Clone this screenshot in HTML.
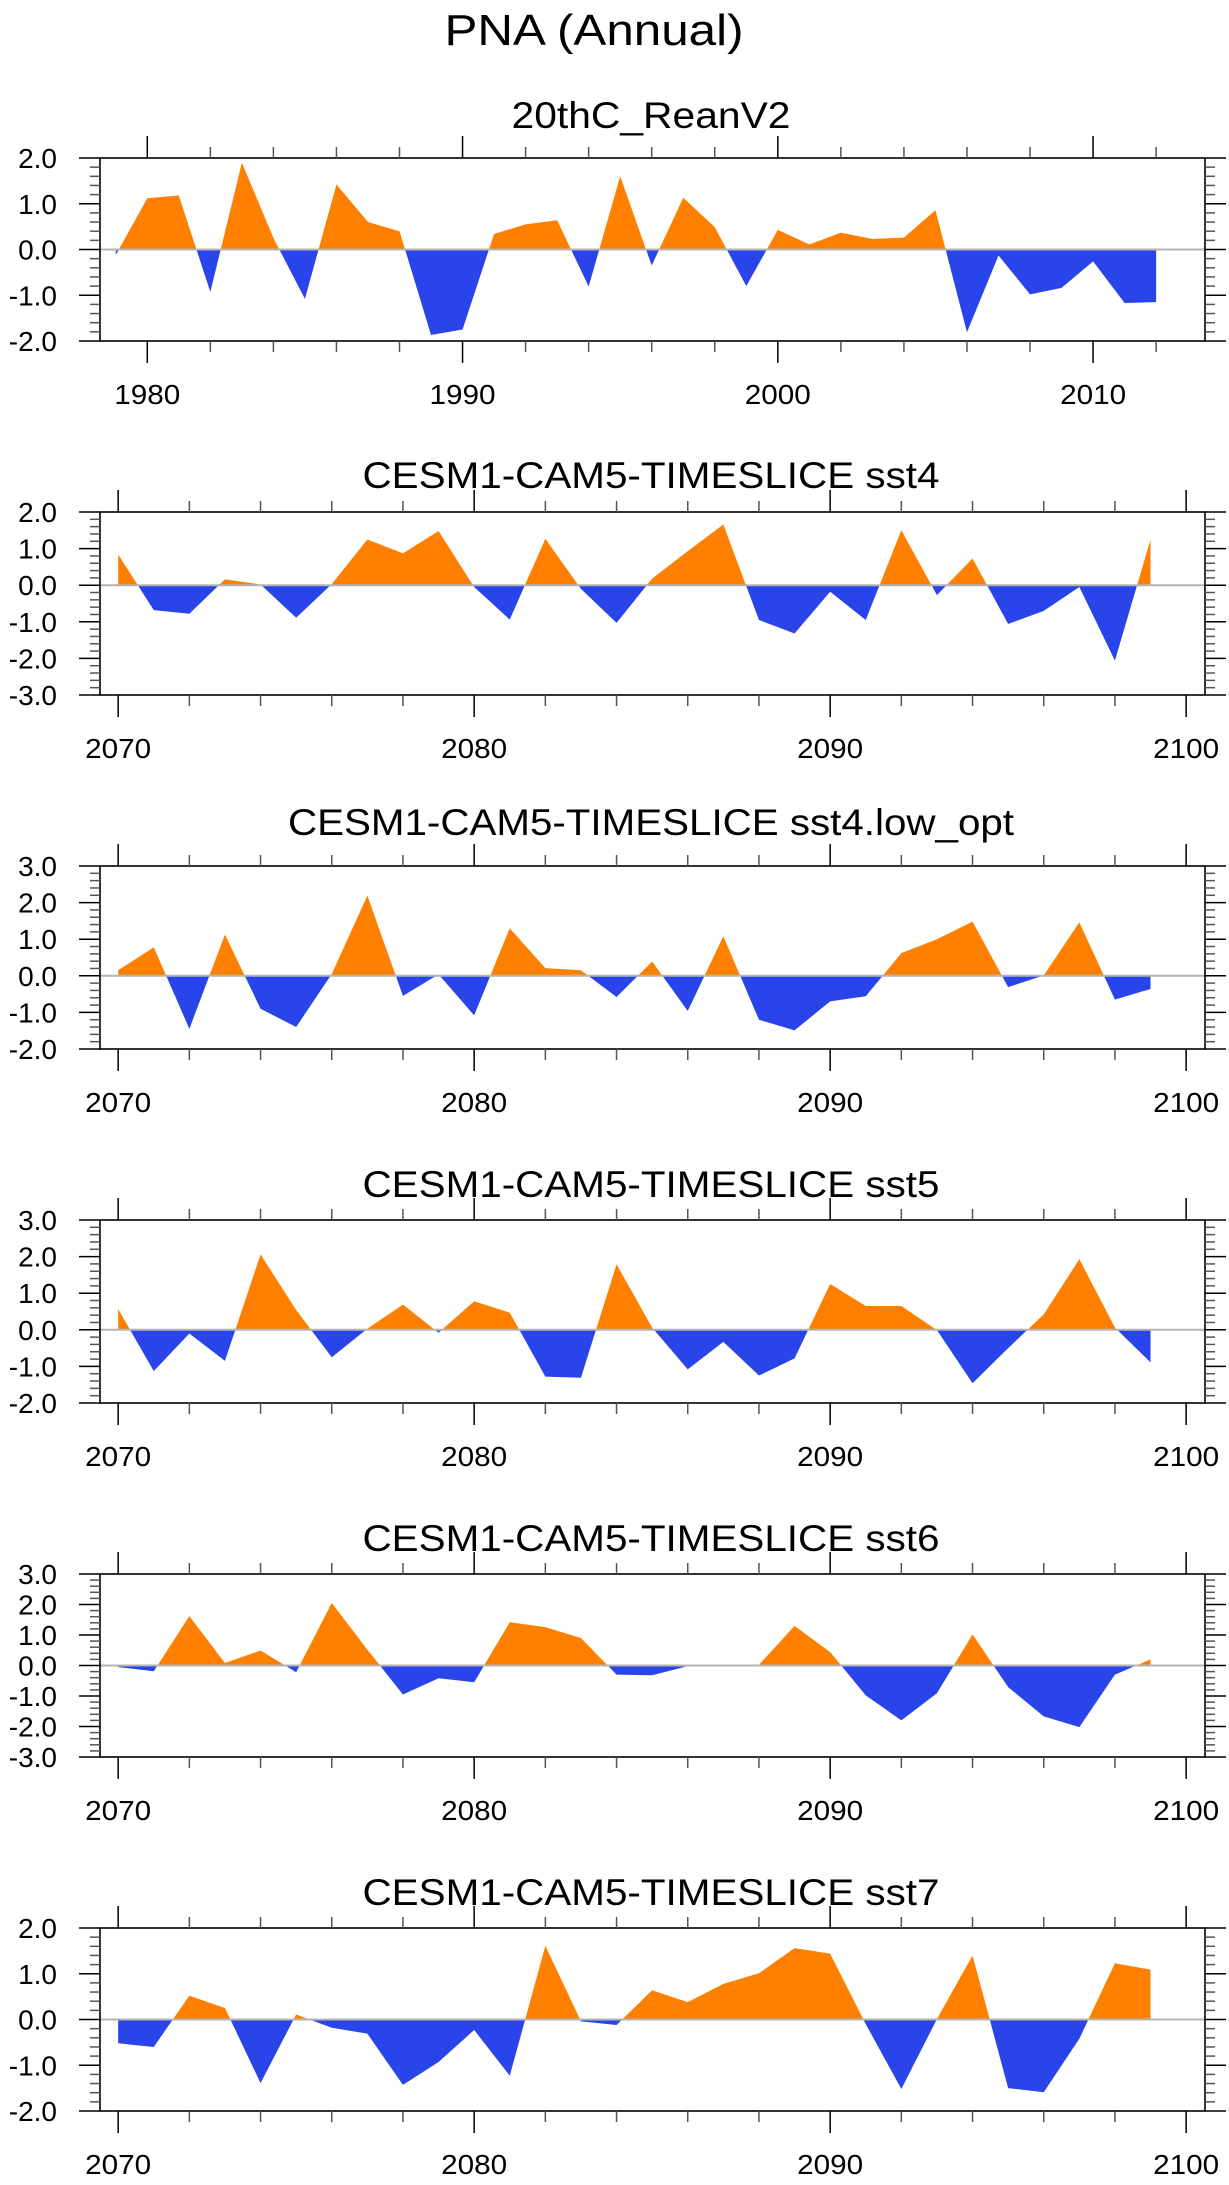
<!DOCTYPE html>
<html><head><meta charset="utf-8"><style>
html,body{margin:0;padding:0;background:#fff;}
svg{display:block;font-family:"Liberation Sans",sans-serif;}
</style></head><body>
<svg id="fig" width="1229" height="2185" viewBox="0 0 1229 2185" xmlns="http://www.w3.org/2000/svg">
<text x="594" y="45" text-anchor="middle" font-size="44" textLength="299" lengthAdjust="spacingAndGlyphs">PNA (Annual)</text>
</svg>
<script>
const yrs1 = [1979,1980,1981,1982,1983,1984,1985,1986,1987,1988,1989,1990,1991,1992,1993,1994,1995,1996,1997,1998,1999,2000,2001,2002,2003,2004,2005,2006,2007,2008,2009,2010,2011,2012];
const vals1 = [-0.12,1.12,1.18,-0.93,1.9,0.25,-1.08,1.42,0.6,0.4,-1.87,-1.75,0.34,0.55,0.64,-0.81,1.6,-0.35,1.13,0.49,-0.8,0.43,0.11,0.37,0.23,0.26,0.86,-1.81,-0.13,-0.98,-0.84,-0.26,-1.17,-1.15];
const yrs2 = [2070,2071,2072,2073,2074,2075,2076,2077,2078,2079,2080,2081,2082,2083,2084,2085,2086,2087,2088,2089,2090,2091,2092,2093,2094,2095,2096,2097,2098,2099];
const vals2 = [0.84,-0.68,-0.78,0.16,0.02,-0.89,0.03,1.25,0.87,1.48,-0.05,-0.94,1.27,-0.1,-1.03,0.18,0.93,1.66,-0.95,-1.32,-0.18,-0.95,1.5,-0.27,0.73,-1.06,-0.7,-0.05,-2.06,1.25];
const vals3 = [0.15,0.78,-1.45,1.13,-0.9,-1.4,0.05,2.19,-0.55,0.04,-1.08,1.3,0.21,0.15,-0.58,0.39,-0.96,1.08,-1.2,-1.49,-0.7,-0.56,0.62,1.0,1.48,-0.31,0.01,1.46,-0.65,-0.36];
const vals4 = [0.57,-1.13,-0.1,-0.85,2.06,0.54,-0.75,0.03,0.69,-0.08,0.78,0.47,-1.28,-1.31,1.79,0.06,-1.08,-0.33,-1.25,-0.78,1.25,0.65,0.65,-0.01,-1.46,-0.5,0.42,1.93,0.06,-0.89];
const vals5 = [-0.05,-0.19,1.62,0.08,0.49,-0.22,2.05,0.52,-0.95,-0.42,-0.55,1.42,1.26,0.9,-0.3,-0.32,-0.02,-0.02,0.02,1.3,0.44,-0.98,-1.8,-0.91,1.02,-0.71,-1.67,-2.02,-0.3,0.2];
const vals6 = [-0.52,-0.6,0.52,0.25,-1.39,0.11,-0.18,-0.31,-1.43,-0.93,-0.23,-1.23,1.61,-0.04,-0.12,0.64,0.38,0.78,1.01,1.56,1.44,-0.1,-1.52,0.01,1.4,-1.5,-1.59,-0.42,1.23,1.09];
const titles = ["20thC_ReanV2","CESM1-CAM5-TIMESLICE sst4","CESM1-CAM5-TIMESLICE sst4.low_opt","CESM1-CAM5-TIMESLICE sst5","CESM1-CAM5-TIMESLICE sst6","CESM1-CAM5-TIMESLICE sst7"];
const yTicks1 = [-2,-1,0,1,2];
const yTicks2 = [-3,-2,-1,0,1,2];
const yTicks3 = [-2,-1,0,1,2,3];
const yTicks6 = [-3,-2,-1,0,1,2,3];
const xTicks1 = [1980,1990,2000,2010];
const xTicks2 = [2070,2080,2090,2100];

const NS="http://www.w3.org/2000/svg";
const svg=document.getElementById('fig');
function mk(tag,attrs,parent){const e=document.createElementNS(NS,tag);for(const k in attrs)e.setAttribute(k,attrs[k]);(parent||svg).appendChild(e);return e;}

const panels=[
 {top:158,years:yrs1,vals:vals1,yt:yTicks1,ymin:-2,ymax:2,xmin:1978.5,xmax:2013.55,xt:xTicks1,minorStart:1978,tb:128,tw:279},
 {top:512,years:yrs2,vals:vals2,yt:yTicks2,ymin:-3,ymax:2,xmin:2069.49,xmax:2100.53,xt:xTicks2,minorStart:2070,tb:488,tw:577},
 {top:866,years:yrs2,vals:vals3,yt:yTicks3,ymin:-2,ymax:3,xmin:2069.49,xmax:2100.53,xt:xTicks2,minorStart:2070,tb:835,tw:726},
 {top:1220,years:yrs2,vals:vals4,yt:yTicks3,ymin:-2,ymax:3,xmin:2069.49,xmax:2100.53,xt:xTicks2,minorStart:2070,tb:1197,tw:577},
 {top:1574,years:yrs2,vals:vals5,yt:yTicks6,ymin:-3,ymax:3,xmin:2069.49,xmax:2100.53,xt:xTicks2,minorStart:2070,tb:1551,tw:577},
 {top:1928,years:yrs2,vals:vals6,yt:yTicks1,ymin:-2,ymax:2,xmin:2069.49,xmax:2100.53,xt:xTicks2,minorStart:2070,tb:1905,tw:577}
];
const L=100,R=1205,H=183;
panels.forEach((p,i)=>{
 const g=mk('g',{});
 
 
 const T=p.top,B=T+H;
 const xs=v=>L+(v-p.xmin)/(p.xmax-p.xmin)*(R-L);
 const ys=v=>B-(v-p.ymin)/(p.ymax-p.ymin)*H;
 const t=mk('text',{x:651,y:p.tb,'text-anchor':'middle','font-size':37,textLength:p.tw,lengthAdjust:'spacingAndGlyphs'},g);
 t.textContent=titles[i];
 
 
 const z=ys(0);
 const id='c'+i;
 const defs=mk('defs',{},g);
 const cp=mk('clipPath',{id:id+'p'},defs);mk('rect',{x:L,y:T,width:R-L,height:z-T},cp);
 const cn=mk('clipPath',{id:id+'n'},defs);mk('rect',{x:L,y:z,width:R-L,height:B-z},cn);
 let d='M'+xs(p.years[0])+','+z;
 p.years.forEach((yr,k)=>{d+=' L'+xs(yr).toFixed(2)+','+ys(p.vals[k]).toFixed(2);});
 d+=' L'+xs(p.years[p.years.length-1])+','+z+' Z';
 const pos=mk('path',{d:d,fill:'#ff8000','clip-path':'url(#'+id+'p)'},g);
 
 
 const neg=mk('path',{d:d,fill:'#2945ea','clip-path':'url(#'+id+'n)'},g);
 
 
 const zl=mk('line',{x1:L,x2:R,y1:z,y2:z,stroke:'#b4b4b4','stroke-width':2},g);
 
 
 const fr=mk('rect',{x:L,y:T,width:R-L,height:H,fill:'none',stroke:'#000','stroke-width':1.6},g);
 
 
 // y ticks
 for(let v=p.ymin;v<=p.ymax+1e-6;v+=0.2){
  const y=ys(v);const maj=Math.abs(v-Math.round(v))<1e-6;const len=maj?21:10;
  mk('line',{x1:L-len,x2:L,y1:y,y2:y,stroke:maj?'#000':'#555','stroke-width':1.5},g);
  mk('line',{x1:R,x2:R+len,y1:y,y2:y,stroke:maj?'#000':'#555','stroke-width':1.5},g);
 }
 p.yt.forEach(v=>{
  const tx=mk('text',{x:57,y:ys(v)+10,'text-anchor':'end','font-size':28},g);
  tx.textContent=v.toFixed(1);
  
  
 });
 // x ticks
 for(let yr=p.minorStart;yr<=p.xmax;yr+=2){
  if(yr<p.xmin)continue;
  const x=xs(yr);const maj=yr%10===0;const len=maj?22:11;
  mk('line',{x1:x,x2:x,y1:T-len,y2:T,stroke:maj?'#000':'#555','stroke-width':1.5},g);
  mk('line',{x1:x,x2:x,y1:B,y2:B+len,stroke:maj?'#000':'#555','stroke-width':1.5},g);
 }
 p.xt.forEach(v=>{
  const tx=mk('text',{x:xs(v),y:B+63,'text-anchor':'middle','font-size':28,textLength:66,lengthAdjust:'spacingAndGlyphs'},g);
  tx.textContent=String(v);
  
  
 });
});
</script>
</body></html>
